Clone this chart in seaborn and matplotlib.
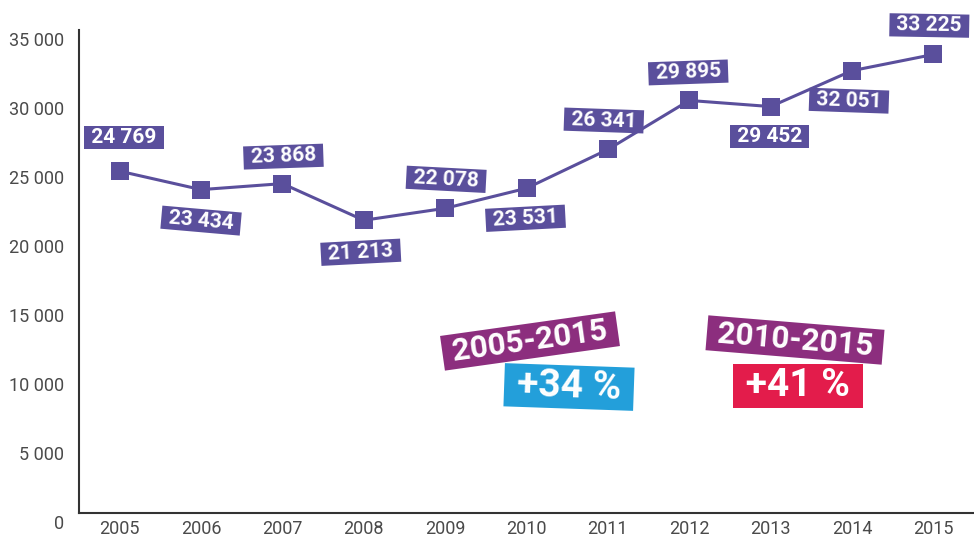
import matplotlib
matplotlib.use("Agg")
import matplotlib.pyplot as plt
import matplotlib.transforms as mtransforms
import seaborn as sns
import pandas as pd
import numpy as np

years = ["2005", "2006", "2007", "2008", "2009", "2010", "2011", "2012", "2013", "2014", "2015"]
values = [24769, 23434, 23868, 21213, 22078, 23531, 26341, 29895, 29452, 32051, 33225]
# label offsets (pixels, up positive) and rotation per point
label_dx = [4, 0, 1, -3, 1, -1, -4, -1, -1, -3, -4]
label_dy = [34, -31, 27, -32, 29, -30, 29, 28, -30, -30, 29]
label_rot = [0, -5, 2, 3, -3, 3, -2, 2, 0, -2, -1]

yticks = [0, 5000, 10000, 15000, 20000, 25000, 30000, 35000]

period_labels = ["2005-2015", "2010-2015"]
change_labels = ["+34 %", "+41 %"]

LINE = "#5a4f9c"
PLUM = "#8c2e7e"
BLUE = "#239fda"
RED = "#e31c4b"
AX = "#333333"
TXT = "#4a4a4a"

sns.set_style("white")
plt.rcParams["font.family"] = ["Roboto", "DejaVu Sans"]

fig = plt.figure(figsize=(9.74, 5.39), dpi=100)
W, H = 974, 539
ax = fig.add_axes([79 / W, 26 / H, (974 - 79) / W, (513 - 30) / H])

df = pd.DataFrame({"x": np.arange(len(years)), "y": values})
sns.lineplot(data=df, x="x", y="y", ax=ax, color=LINE, linewidth=2.2,
             marker="s", markersize=12.5, markeredgewidth=0, markerfacecolor=LINE,
             zorder=3)

ax.set_xlim(-0.5, len(years) - 0.5)
ax.set_ylim(0, 35000)
ax.set_xlabel("")
ax.set_ylabel("")

for s in ["top", "right"]:
    ax.spines[s].set_visible(False)
for s in ["left", "bottom"]:
    ax.spines[s].set_color(AX)
    ax.spines[s].set_linewidth(1.5)

ax.set_xticks(np.arange(len(years)))
ax.set_xticklabels(years)
ax.set_xticks(np.arange(len(years) - 1) + 0.5, minor=True)
ax.tick_params(axis="x", which="major", length=0, pad=5, labelsize=13, labelcolor=TXT)
ax.tick_params(axis="x", which="minor", direction="in", length=8.6, width=1.3, color=AX)

ax.set_yticks(yticks)
ax.set_yticklabels([f"{v:,}".replace(",", " ") for v in yticks])
ax.tick_params(axis="y", which="major", direction="in", length=16, width=1.5, color=AX,
               pad=11, labelsize=13, labelcolor=TXT)
offset = mtransforms.ScaledTranslation(0, -9 / 100, fig.dpi_scale_trans)
for lab in ax.get_yticklabels():
    lab.set_transform(lab.get_transform() + offset)

# value labels
for i, v in enumerate(values):
    txt = " " + f"{v:,}".replace(",", " ") + " "
    ax.annotate(txt, xy=(i, v), xytext=(label_dx[i] * 0.72, label_dy[i] * 0.72),
                textcoords="offset points", ha="center", va="center",
                rotation=label_rot[i], rotation_mode="anchor",
                fontsize=15, fontweight="bold", color="white", zorder=5,
                bbox=dict(boxstyle="square,pad=0.1", fc=LINE, ec="none"))

# period annotations
def ftext(x, y, s, fs, fc, rot):
    fig.text(x / W, 1 - y / H, " " + s + " ", ha="center", va="center", rotation=rot,
             rotation_mode="anchor", fontsize=fs, fontweight="bold", color="white",
             bbox=dict(boxstyle="square,pad=0.08", fc=fc, ec="none"), zorder=6)

ftext(569, 387, change_labels[0], 28, BLUE, -2)
ftext(530, 341, period_labels[0], 22.5, PLUM, 8)
ftext(798, 386, change_labels[1], 28, RED, 0)
ftext(795, 340, period_labels[1], 22.5, PLUM, -4.7)

fig.savefig("out.png", dpi=100)
